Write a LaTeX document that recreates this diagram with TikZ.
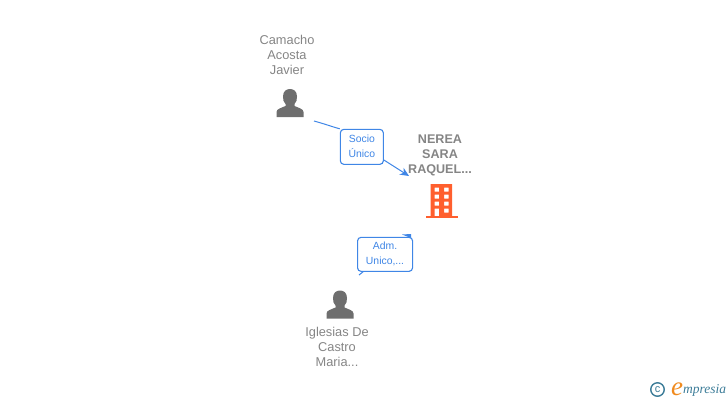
\documentclass[tikz,border=0pt]{standalone}
\usepackage{fontspec}
\setmainfont{Liberation Sans}
\newfontfamily\logofont{Liberation Serif}
\usetikzlibrary{arrows.meta}
\definecolor{txtgray}{HTML}{858585}
\definecolor{icongray}{HTML}{6E6E6E}
\definecolor{linkblue}{HTML}{3F86E6}
\definecolor{orangeb}{HTML}{FF5F2E}
\definecolor{logoteal}{HTML}{3C7C98}
\definecolor{logoorange}{HTML}{F08A1E}
\tikzset{
 x=1pt,y=-1pt,
 nametext/.style={font=\fontsize{12.8}{15}\selectfont,text=txtgray,align=center,inner sep=0pt},
 boldtext/.style={font=\fontsize{12.6}{15}\selectfont\bfseries,text=txtgray,align=center,inner sep=0pt},
 linklabel/.style={draw=linkblue,line width=1.1pt,rounded corners=3.5pt,fill=white,text=linkblue,
   font=\fontsize{10.4}{15}\selectfont,align=center,inner sep=0pt,anchor=north west},
 link/.style={draw=linkblue,line width=1pt},
 arrowlink/.style={link,-{Stealth[length=9pt,width=8pt]}},
}
\newcommand{\personicon}[2]{%
 \fill[icongray,shift={(#1,#2)}] (-13.5,28) -- (-13.5,23) .. controls (-13.5,20) and (-9,19) .. (-4.5,17)
  -- (-4.5,15) .. controls (-6.5,13) and (-7,11) .. (-7,7.5) .. controls (-7,2) and (-3.5,0) .. (0,0)
  .. controls (3.5,0) and (7,2) .. (7,7.5) .. controls (7,11) and (6.5,13) .. (4.5,15) -- (4.5,17)
  .. controls (9,19) and (13.5,20) .. (13.5,23) -- (13.5,28) -- cycle;}
\begin{document}
\begin{tikzpicture}
\useasboundingbox (0,0) rectangle (728,400);
% connectors
\coordinate (srcA) at (314,121);
\coordinate (tgtA) at (409,176);
\coordinate (tailB) at (359,275);
\coordinate (tgtB) at (411,234);
\node[linklabel,minimum width=43pt,minimum height=35pt] (labA) at (339.8,128.8) {\raisebox{0.7pt}{Socio}\\\raisebox{0.7pt}{Único}};
\node[linklabel,minimum width=55pt,minimum height=34pt] (labB) at (357,236.8) {Adm.\\Unico,...};
\draw[link] (srcA) .. controls (325,124) and (333,127) .. (labA.north west);
\draw[arrowlink] (labA.east |- 0,160) -- (tgtA);
\draw[link] (tailB) -- ([xshift=6pt]labB.south west);
\fill[linkblue] (tgtB) -- (411,238) -- (402,234.5) -- cycle;
% source names
\node[nametext] (nameA) at (287,55) {Camacho\\Acosta\\Javier};
\node[nametext] (nameB) at (337,347) {Iglesias De\\Castro\\Maria...};
\node[boldtext] (nameT) at (440,155.7) {NEREA\\SARA\\RAQUEL...};
% icons
\personicon{290}{89}
\personicon{340}{290.5}
% building
\fill[orangeb,even odd rule] (430.7,184) rectangle (452,216)
 (434.5,187.5) rectangle (439,191.5) (444,187.5) rectangle (448.5,191.5)
 (434.5,194.5) rectangle (439,198.5) (444,194.5) rectangle (448.5,198.5)
 (434.5,201.5) rectangle (439,205.5) (444,201.5) rectangle (448.5,205.5)
 (434.5,208.5) rectangle (439,216) (444,208.5) rectangle (448.5,212.5);
\fill[orangeb] (426,215.5) rectangle (458,218.3);
% logo
\node[circle,draw=logoteal,line width=1.4pt,minimum size=13.5pt,inner sep=0pt,text=logoteal,
  font=\fontsize{11}{11}\selectfont] (copy) at (657.5,389.5) {c};
\node[inner sep=0pt,anchor=base west,text=logoorange,font=\logofont\itshape\fontsize{27}{27}\selectfont] (loge) at (671,395.5) {e};
\node[inner sep=0pt,anchor=base west,text=logoteal,font=\logofont\itshape\fontsize{13.5}{14}\selectfont] (logt) at (683,393.5) {mpresia};
\end{tikzpicture}
\end{document}
